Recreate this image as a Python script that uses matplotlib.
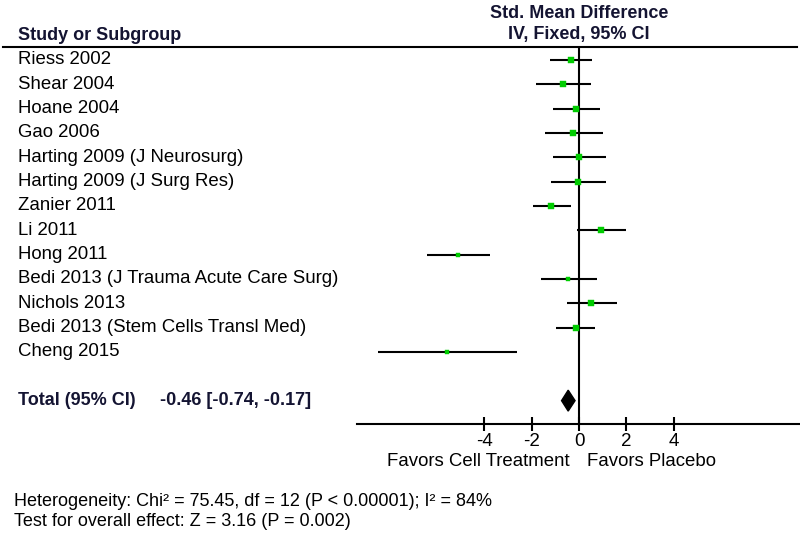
import numpy as np
import matplotlib
matplotlib.use('Agg')
import matplotlib.pyplot as plt
from matplotlib.transforms import blended_transform_factory
from matplotlib.lines import Line2D

plt.rcParams['font.family'] = ['Liberation Sans', 'DejaVu Sans']

studies = ['Riess 2002', 'Shear 2004', 'Hoane 2004', 'Gao 2006',
           'Harting 2009 (J Neurosurg)', 'Harting 2009 (J Surg Res)',
           'Zanier 2011', 'Li 2011', 'Hong 2011',
           'Bedi 2013 (J Trauma Acute Care Surg)', 'Nichols 2013',
           'Bedi 2013 (Stem Cells Transl Med)', 'Cheng 2015']
smd = [-0.35, -0.70, -0.15, -0.24, 0.01, -0.04, -1.18, 0.91, -5.10, -0.46, 0.52, -0.15, -5.56]
ci_lo = [-1.22, -1.81, -1.11, -1.42, -1.11, -1.17, -1.94, -0.07, -6.43, -1.62, -0.52, -0.97, -8.49]
ci_hi = [0.53, 0.49, 0.87, 1.01, 1.14, 1.14, -0.35, 1.97, -3.76, 0.75, 1.59, 0.69, -2.60]
weight = [12.2, 6.8, 8.5, 6.8, 6.8, 6.8, 12.2, 6.8, 5.4, 5.4, 6.8, 12.2, 3.1]

total_est, total_lo, total_hi = -0.46, -0.74, -0.17
ticks = [-4, -2, 0, 2, 4]

W, H = 800, 538
fig = plt.figure(figsize=(W / 100, H / 100), dpi=100)
# axes placed in pixel terms to line up with the text column
ax = fig.add_axes([357 / W, 1 - 424 / H, 1 - 357 / W, (424 - 47) / H])
ax.set_xlim(-9.37, 9.32)
ax.set_ylim(14.96, -0.534)

green = '#00cc00'
for i in range(len(studies)):
    ax.plot([ci_lo[i], ci_hi[i]], [i, i], color='black', lw=1.5, solid_capstyle='butt', zorder=2)
    ms = np.sqrt(weight[i]) * 2.0 * 0.72
    ax.plot(smd[i], i, marker='s', ms=ms, color=green, mec=green, mew=0.3, zorder=3)

# pooled diamond
row_t = len(studies) + 1
ax.fill([total_lo, total_est, total_hi, total_est],
        [row_t, row_t - 0.43, row_t, row_t + 0.43], color='black', zorder=3)

ax.axvline(0, color='black', lw=1.5, zorder=1)

for s in ['top', 'left', 'right']:
    ax.spines[s].set_visible(False)
ax.spines['bottom'].set_linewidth(1.5)
ax.set_yticks([])
ax.set_xticks(ticks)
ax.set_xticklabels([str(t) for t in ticks])
ax.tick_params(axis='x', direction='inout', length=9.5, width=1.5, labelsize=13.5, pad=1.5)

# top rule across the whole figure
fig.add_artist(Line2D([3 / W, 797 / W], [1 - 47 / H, 1 - 47 / H], color='black', lw=1.5))

fs = 13.4
trans = blended_transform_factory(fig.transFigure, ax.transData)
hdr = '#141432'
for i, name in enumerate(studies):
    ax.text(18 / W, i, name, transform=trans, fontsize=fs, va='center', ha='left')
ax.text(18 / W, row_t, 'Total (95% CI)', transform=trans, fontsize=13,
        fontweight='bold', va='center', ha='left', color=hdr)
ax.text(160 / W, row_t, f'{total_est:.2f} [{total_lo:.2f}, {total_hi:.2f}]', transform=trans,
        fontsize=13, fontweight='bold', va='center', ha='left', color=hdr)

fig.text(18 / W, 1 - 36 / H, 'Study or Subgroup', fontsize=13, fontweight='bold',
         va='center', ha='left', color=hdr)
tx = blended_transform_factory(ax.transData, fig.transFigure)
ax.text(0, 1 - 13 / H, 'Std. Mean Difference', transform=tx, fontsize=13,
        fontweight='bold', ha='center', va='center', color=hdr)
ax.text(0, 1 - 35 / H, 'IV, Fixed, 95% CI', transform=tx, fontsize=13,
        fontweight='bold', ha='center', va='center', color=hdr)

ax.text(-0.38, 1 - 462 / H, 'Favors Cell Treatment', transform=tx, fontsize=fs,
        ha='right', va='center')
ax.text(0.34, 1 - 462 / H, 'Favors Placebo', transform=tx, fontsize=fs,
        ha='left', va='center')

fig.text(14 / W, 1 - 502 / H, 'Heterogeneity: Chi² = 75.45, df = 12 (P < 0.00001); I² = 84%',
         fontsize=13, va='center', ha='left')
fig.text(14 / W, 1 - 522 / H, 'Test for overall effect: Z = 3.16 (P = 0.002)',
         fontsize=13, va='center', ha='left')

fig.savefig('out.png', dpi=100)
